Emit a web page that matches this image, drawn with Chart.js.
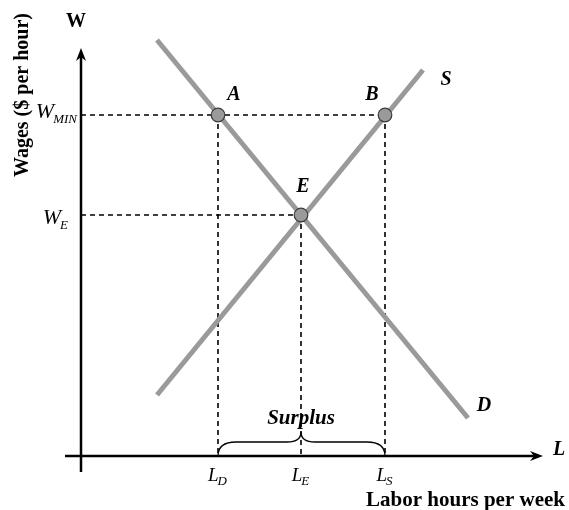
<!DOCTYPE html>
<html>
<head>
<meta charset="utf-8">
<script src="https://cdn.jsdelivr.net/npm/chart.js@4/dist/chart.umd.min.js"></script>
<style>
html,body{margin:0;padding:0;background:#fff;}
#wrap{width:569px;height:510px;position:relative;}
</style>
</head>
<body>
<div id="wrap"><canvas id="c" width="569" height="510"></canvas></div>
<script>
// ---- data (chart units: labor hours on x, wage on y) ----
const pointLabels = ['A', 'B', 'E'];
const pointX = [137, 304, 220];
const pointY = [341, 341, 241];
const demandX = [76, 387];
const demandY = [416, 38];
const supplyX = [76, 342];
const supplyY = [61, 386];
const xTickMain = ['L', 'L', 'L'];
const xTickSub = ['D', 'E', 'S'];
const xTickValues = [137, 220, 304];
const yTickMain = ['W', 'W'];
const yTickSub = ['MIN', 'E'];
const yTickValues = [341, 241];
const axisMinX = -16, axisMaxX = 462;
const axisMinY = -16, axisMaxY = 408;

const SERIF = '"Liberation Serif", "Times New Roman", serif';
const GRAY = '#9a9a9a';

const demand = demandX.map((x, i) => ({x, y: demandY[i]}));
const supply = supplyX.map((x, i) => ({x, y: supplyY[i]}));
const pts = pointX.map((x, i) => ({x, y: pointY[i]}));

function arrowHead(ctx, x, y, dir) {
  ctx.beginPath();
  if (dir === 'right') {
    ctx.moveTo(x, y); ctx.lineTo(x - 13, y - 5); ctx.lineTo(x - 9, y); ctx.lineTo(x - 13, y + 5);
  } else {
    ctx.moveTo(x, y); ctx.lineTo(x - 5, y + 13); ctx.lineTo(x, y + 9); ctx.lineTo(x + 5, y + 13);
  }
  ctx.closePath(); ctx.fill();
}

const econPlugin = {
  id: 'econ',
  beforeDatasetsDraw(chart) {
    const {ctx, scales: {x, y}} = chart;
    const X = v => x.getPixelForValue(v), Y = v => y.getPixelForValue(v);
    ctx.save();
    // axes
    ctx.strokeStyle = '#000'; ctx.fillStyle = '#000'; ctx.lineWidth = 2.5;
    ctx.beginPath();
    ctx.moveTo(X(axisMinX), Y(0)); ctx.lineTo(X(axisMaxX) - 6, Y(0));
    ctx.moveTo(X(0), Y(axisMinY)); ctx.lineTo(X(0), Y(axisMaxY) + 6);
    ctx.stroke();
    arrowHead(ctx, X(axisMaxX), Y(0), 'right');
    arrowHead(ctx, X(0), Y(axisMaxY), 'up');
    // dashed guides
    ctx.lineWidth = 1.6; ctx.setLineDash([5, 4]);
    ctx.beginPath();
    ctx.moveTo(X(0), Y(pointY[0])); ctx.lineTo(X(pointX[1]), Y(pointY[1]));
    ctx.moveTo(X(0), Y(pointY[2])); ctx.lineTo(X(pointX[2]), Y(pointY[2]));
    for (let i = 0; i < pointX.length; i++) {
      ctx.moveTo(X(pointX[i]), Y(pointY[i])); ctx.lineTo(X(pointX[i]), Y(0));
    }
    ctx.stroke();
    ctx.setLineDash([]);
    // brace
    const x0 = X(xTickValues[0]), x1 = X(xTickValues[2]), xm = X(xTickValues[1]);
    const yb = Y(0), yt = yb - 14, yp = yb - 24;
    ctx.lineWidth = 1.3;
    ctx.beginPath();
    ctx.moveTo(x0, yb);
    ctx.quadraticCurveTo(x0, yt, x0 + 18, yt);
    ctx.lineTo(xm - 14, yt);
    ctx.quadraticCurveTo(xm, yt, xm, yp);
    ctx.quadraticCurveTo(xm, yt, xm + 14, yt);
    ctx.lineTo(x1 - 18, yt);
    ctx.quadraticCurveTo(x1, yt, x1, yb);
    ctx.stroke();
    ctx.restore();
  },
  afterDatasetsDraw(chart) {
    const {ctx, scales: {x, y}} = chart;
    const X = v => x.getPixelForValue(v), Y = v => y.getPixelForValue(v);
    ctx.save();
    ctx.fillStyle = '#000';
    ctx.textBaseline = 'alphabetic';
    // point labels
    ctx.font = 'italic bold 20px ' + SERIF;
    ctx.textAlign = 'center';
    ctx.fillText(pointLabels[0], X(pointX[0]) + 16, Y(pointY[0]) - 15);
    ctx.fillText(pointLabels[1], X(pointX[1]) - 13, Y(pointY[1]) - 15);
    ctx.fillText(pointLabels[2], X(pointX[2]) + 2, Y(pointY[2]) - 23);
    // curve labels
    ctx.fillText('S', X(supplyX[1]) + 23, Y(supplyY[1]) + 15);
    ctx.fillText('D', X(demandX[1]) + 16, Y(demandY[1]) - 7);
    ctx.fillText('L', X(axisMaxX) + 16, Y(0) - 1);
    ctx.font = 'italic bold 21px ' + SERIF;
    ctx.fillText('Surplus', X(xTickValues[1]), Y(0) - 32);
    // axis titles
    ctx.font = 'bold 20px ' + SERIF;
    ctx.fillText('W', X(0) - 5, Y(axisMaxY) - 21);
    ctx.font = 'bold 21px ' + SERIF;
    ctx.textAlign = 'right';
    ctx.fillText('Labor hours per week', 565, Y(0) + 50);
    ctx.font = 'bold 20px ' + SERIF;
    ctx.save();
    ctx.translate(28, 95);
    ctx.rotate(-Math.PI / 2);
    ctx.textAlign = 'center';
    ctx.fillText('Wages ($ per hour)', 0, 0);
    ctx.restore();
    // x tick labels with subscripts
    for (let i = 0; i < xTickValues.length; i++) {
      const cx = X(xTickValues[i]);
      ctx.font = 'italic 19px ' + SERIF;
      const w1 = ctx.measureText(xTickMain[i]).width;
      ctx.font = 'italic 13px ' + SERIF;
      const w2 = ctx.measureText(xTickSub[i]).width;
      const start = cx - (w1 + w2) / 2;
      ctx.textAlign = 'left';
      ctx.font = 'italic 19px ' + SERIF;
      ctx.fillText(xTickMain[i], start, Y(0) + 25);
      ctx.font = 'italic 13px ' + SERIF;
      ctx.fillText(xTickSub[i], start + w1 - 1, Y(0) + 29);
    }
    // y tick labels with subscripts
    const yRight = [X(0) - 4, X(0) - 13];
    const yMainDy = [3, 9];
    const ySubDy = [8, 14];
    for (let i = 0; i < yTickValues.length; i++) {
      const cy = Y(yTickValues[i]);
      ctx.font = 'italic 13px ' + SERIF;
      const w2 = ctx.measureText(yTickSub[i]).width;
      ctx.textAlign = 'right';
      ctx.fillText(yTickSub[i], yRight[i], cy + ySubDy[i]);
      ctx.font = 'italic 22px ' + SERIF;
      ctx.fillText(yTickMain[i], yRight[i] - w2 + 1, cy + yMainDy[i]);
    }
    ctx.restore();
  }
};

new Chart(document.getElementById('c'), {
  type: 'scatter',
  data: {
    datasets: [
      {label: 'Points', data: pts, showLine: false, pointRadius: 6.8, pointHoverRadius: 6.8,
       pointBackgroundColor: GRAY, pointBorderColor: '#3a3a3a', pointBorderWidth: 1.2, clip: false},
      {label: 'Supply', data: supply, showLine: true, borderColor: GRAY, borderWidth: 5,
       pointRadius: 0, borderCapStyle: 'butt', clip: false},
      {label: 'Demand', data: demand, showLine: true, borderColor: GRAY, borderWidth: 5,
       pointRadius: 0, borderCapStyle: 'butt', clip: false}
    ]
  },
  options: {
    responsive: false,
    animation: false,
    events: [],
    layout: {padding: {left: 65, right: 26, top: 48, bottom: 38}},
    plugins: {legend: {display: false}, tooltip: {enabled: false}},
    scales: {
      x: {type: 'linear', min: axisMinX, max: axisMaxX, display: false},
      y: {type: 'linear', min: axisMinY, max: axisMaxY, display: false}
    }
  },
  plugins: [econPlugin]
});
</script>
</body>
</html>
